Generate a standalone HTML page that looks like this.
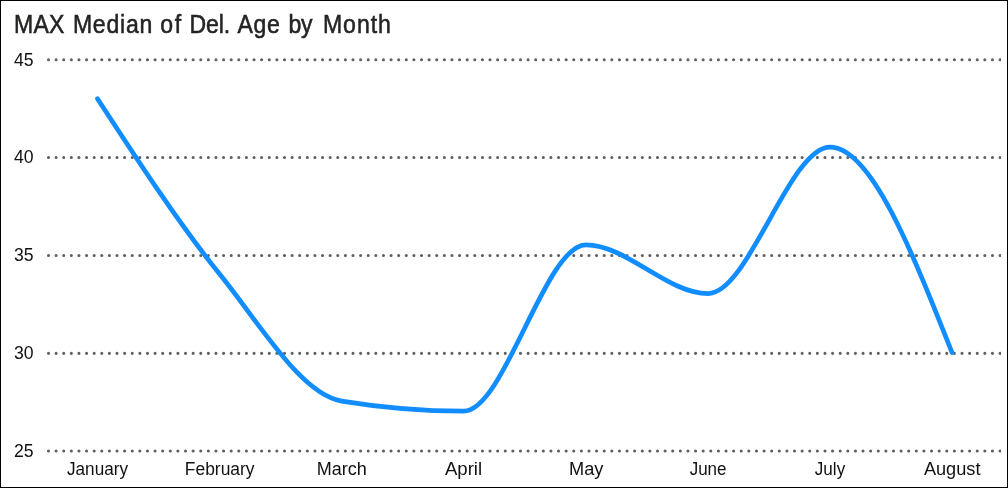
<!DOCTYPE html>
<html lang="en">
<head>
<meta charset="utf-8">
<title>MAX Median of Del. Age by Month</title>
<style>
html,body{margin:0;padding:0;background:#fff;}
body{width:1008px;height:488px;overflow:hidden;position:relative;font-family:"Liberation Sans",sans-serif;}
#frame{position:absolute;left:0;top:0;width:1006px;height:486px;border:1px solid #000;background:#fff;}
svg{position:absolute;left:0;top:0;display:block;}
.title{font-family:"Liberation Sans",sans-serif;font-size:25.6px;fill:#252423;stroke:#252423;stroke-width:0.55px;}
.ax{font-family:"Liberation Sans",sans-serif;font-size:18.3px;fill:#111;}
.grid{stroke:#606060;stroke-width:3.1;stroke-linecap:round;stroke-dasharray:0 7.6125;fill:none;}
.line{stroke:#118DFF;stroke-width:4.7;fill:none;stroke-linecap:round;stroke-linejoin:round;}
</style>
</head>
<body>
<div id="frame"></div>
<svg width="1008" height="488" viewBox="0 0 1008 488">
<defs><clipPath id="plot"><rect x="40" y="40" width="961" height="430"/></clipPath></defs>

<text class="title" transform="translate(0,32.6) scale(0.90,1)" y="0"><tspan x="15.56" textLength="56.0" lengthAdjust="spacing">MAX</tspan> <tspan x="81.00" textLength="88.2" lengthAdjust="spacing">Median</tspan> <tspan x="178.00" textLength="23.2" lengthAdjust="spacing">of</tspan> <tspan x="210.56" textLength="45.1" lengthAdjust="spacing">Del.</tspan> <tspan x="263.89" textLength="46.9" lengthAdjust="spacing">Age</tspan> <tspan x="320.56" textLength="26.6" lengthAdjust="spacing">by</tspan> <tspan x="358.78" textLength="75.6" lengthAdjust="spacing">Month</tspan></text>
<g clip-path="url(#plot)">
<path class="grid" d="M48.5,59.70H1010"/>
<path class="grid" d="M48.5,157.55H1010"/>
<path class="grid" d="M48.5,255.55H1010"/>
<path class="grid" d="M48.5,353.35H1010"/>
<path class="grid" d="M48.5,451.05H1010"/>
</g>
<g class="ax" text-anchor="start">
<text x="13.9" y="65.5" textLength="19.6" lengthAdjust="spacingAndGlyphs">45</text>
<text x="13.9" y="162.6" textLength="19.6" lengthAdjust="spacingAndGlyphs">40</text>
<text x="13.9" y="260.6" textLength="19.6" lengthAdjust="spacingAndGlyphs">35</text>
<text x="13.9" y="358.6" textLength="19.6" lengthAdjust="spacingAndGlyphs">30</text>
<text x="13.9" y="456.6" textLength="19.6" lengthAdjust="spacingAndGlyphs">25</text>
</g>
<g class="ax">
<text x="67.0" y="475.0" textLength="61.0" lengthAdjust="spacingAndGlyphs">January</text>
<text x="184.8" y="475.0" textLength="69.8" lengthAdjust="spacingAndGlyphs">February</text>
<text x="316.8" y="475.0" textLength="50.1" lengthAdjust="spacingAndGlyphs">March</text>
<text x="444.9" y="475.0" textLength="37.2" lengthAdjust="spacingAndGlyphs">April</text>
<text x="569.0" y="475.0" textLength="34.4" lengthAdjust="spacingAndGlyphs">May</text>
<text x="689.7" y="475.0" textLength="36.8" lengthAdjust="spacingAndGlyphs">June</text>
<text x="814.8" y="475.0" textLength="30.4" lengthAdjust="spacingAndGlyphs">July</text>
<text x="923.9" y="475.0" textLength="56.6" lengthAdjust="spacingAndGlyphs">August</text>
</g>
<path class="line" d="M97.50,98.70C138.27,161.27,179.03,223.84,219.80,274.30C260.43,324.59,301.07,394.40,341.70,401.10C382.33,407.80,422.97,411.15,463.60,411.15C504.37,411.15,545.13,244.90,585.90,244.90C626.60,244.90,667.30,293.60,708.00,293.60C748.70,293.60,789.40,147.05,830.10,147.05C870.73,147.05,911.37,249.78,952.00,352.50"/>
</svg>
</body>
</html>
